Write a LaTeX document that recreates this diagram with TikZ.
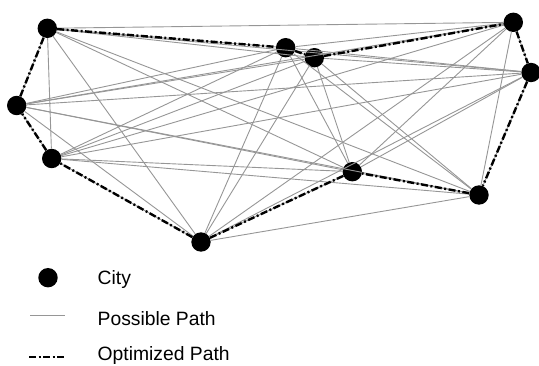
\documentclass[tikz,border=0pt]{standalone}
\usepackage{fontspec}
\setmainfont{Liberation Sans}
\definecolor{pathgray}{RGB}{150,150,150}
\begin{document}
\begin{tikzpicture}[x=1pt,y=-1pt,
  city/.style={circle,fill=black,inner sep=0pt,minimum size=19.4pt},
  possible/.style={draw=pathgray,line width=0.9pt},
  optimized/.style={draw=black,line width=2.4pt,
    dash pattern=on 7pt off 2.5pt on 2pt off 2.5pt},
  legendtext/.style={anchor=base west,inner sep=0pt,
    font=\fontsize{19.3}{22}\selectfont}]
\useasboundingbox (0,0) rectangle (539,366);

% cities
\node[city] (A) at (47.3,28.3) {};
\node[city] (B) at (16.7,105.5) {};
\node[city] (C) at (51.7,158.5) {};
\node[city] (D) at (201,242) {};
\node[city] (E) at (285.7,47.7) {};
\node[city] (F) at (314.3,57.7) {};
\node[city] (G) at (513.3,22.3) {};
\node[city] (H) at (531,72.5) {};
\node[city] (I) at (352.3,171.7) {};
\node[city] (J) at (479,195) {};

% every possible connection between two cities
\foreach \a/\others in {A/{B,C,D,E,F,G,H,I,J},B/{C,D,E,F,G,H,I,J},
    C/{D,E,F,G,H,I,J},D/{E,F,G,H,I,J},E/{F,G,H,I,J},F/{G,H,I,J},
    G/{H,I,J},H/{I,J},I/{J}}
  \foreach \b in \others
    \draw[possible] (\a) -- (\b);

% the optimized tour
\draw[optimized] (A) -- (E) -- (F) -- (G) -- (H) -- (J) -- (I) -- (D)
  -- (C) -- (B) -- (A);

% legend
\node[city] (legcity) at (48,277.7) {};
\coordinate (pp1) at (30,315.7);
\coordinate (pp2) at (65,315.7);
\draw[possible] (pp1) -- (pp2);
\coordinate (op1) at (29,357.3);
\coordinate (op2) at (65,357.3);
\draw[optimized] (op1) -- (op2);
\node[legendtext] (tcity) at (97.5,284.3) {City};
\node[legendtext] (tpossible) at (97.5,325.7) {Possible Path};
\node[legendtext] (toptimized) at (97.5,360.3) {Optimized Path};
\end{tikzpicture}
\end{document}
